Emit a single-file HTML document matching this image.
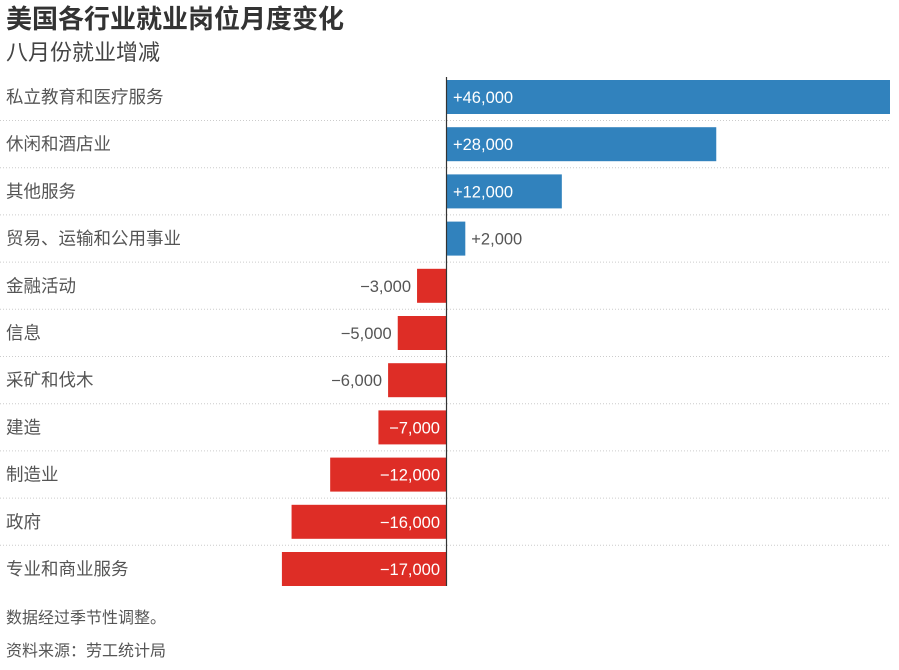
<!DOCTYPE html>
<html><head><meta charset="utf-8"><style>
body{margin:0;background:#fff;width:899px;height:665px;overflow:hidden;font-family:"Liberation Sans","Noto Sans CJK SC",sans-serif;}
</style></head><body>
<svg width="899" height="665" xmlns="http://www.w3.org/2000/svg" font-family="Liberation Sans, Noto Sans CJK SC, sans-serif">
<text x="6" y="28" font-size="26" font-weight="bold" fill="#333">美国各行业就业岗位月度变化</text>
<text x="6" y="60" font-size="22" fill="#444">八月份就业增减</text>
<g id="rows"></g>
<line x1="446.5" y1="77" x2="446.5" y2="586" stroke="#333" stroke-width="1.2"/>
<text x="6" y="623" font-size="16" fill="#555">数据经过季节性调整。</text>
<text x="6" y="656" font-size="16" fill="#555">资料来源：劳工统计局</text>
</svg>
<script>
var d=[["私立教育和医疗服务",46000],["休闲和酒店业",28000],["其他服务",12000],["贸易、运输和公用事业",2000],["金融活动",-3000],["信息",-5000],["采矿和伐木",-6000],["建造",-7000],["制造业",-12000],["政府",-16000],["专业和商业服务",-17000]];
var s=444/46000,z=446,h="";
d.forEach(function(r,i){
var t=80+i*47.2,cy=t+17,v=r[1],w=Math.abs(v)*s,f=(v>0?"+":"−")+Math.abs(v).toLocaleString("en-US");
if(i<10)h+='<line x1="0" x2="890" y1="'+(t+40.5)+'" y2="'+(t+40.5)+'" stroke="#ccc" stroke-dasharray="1,2"/>';
h+='<text x="6" y="'+(cy+6)+'" font-size="17.5" fill="#555">'+r[0]+'</text>';
if(v>0){h+='<rect x="'+z+'" y="'+t+'" width="'+w+'" height="34" fill="#3182bd"/>';
if(w>60)h+='<text x="'+(z+7)+'" y="'+(cy+6)+'" font-size="16.5" fill="#fff">'+f+'</text>';
else h+='<text x="'+(z+w+6)+'" y="'+(cy+6)+'" font-size="16.5" fill="#555">'+f+'</text>';}
else{h+='<rect x="'+(z-w)+'" y="'+t+'" width="'+w+'" height="34" fill="#de2d26"/>';
if(w>60)h+='<text x="'+(z-6)+'" y="'+(cy+6)+'" font-size="16.5" fill="#fff" text-anchor="end">'+f+'</text>';
else h+='<text x="'+(z-w-6)+'" y="'+(cy+6)+'" font-size="16.5" fill="#555" text-anchor="end">'+f+'</text>';}
});
document.getElementById("rows").innerHTML=h;
</script>
</body></html>
